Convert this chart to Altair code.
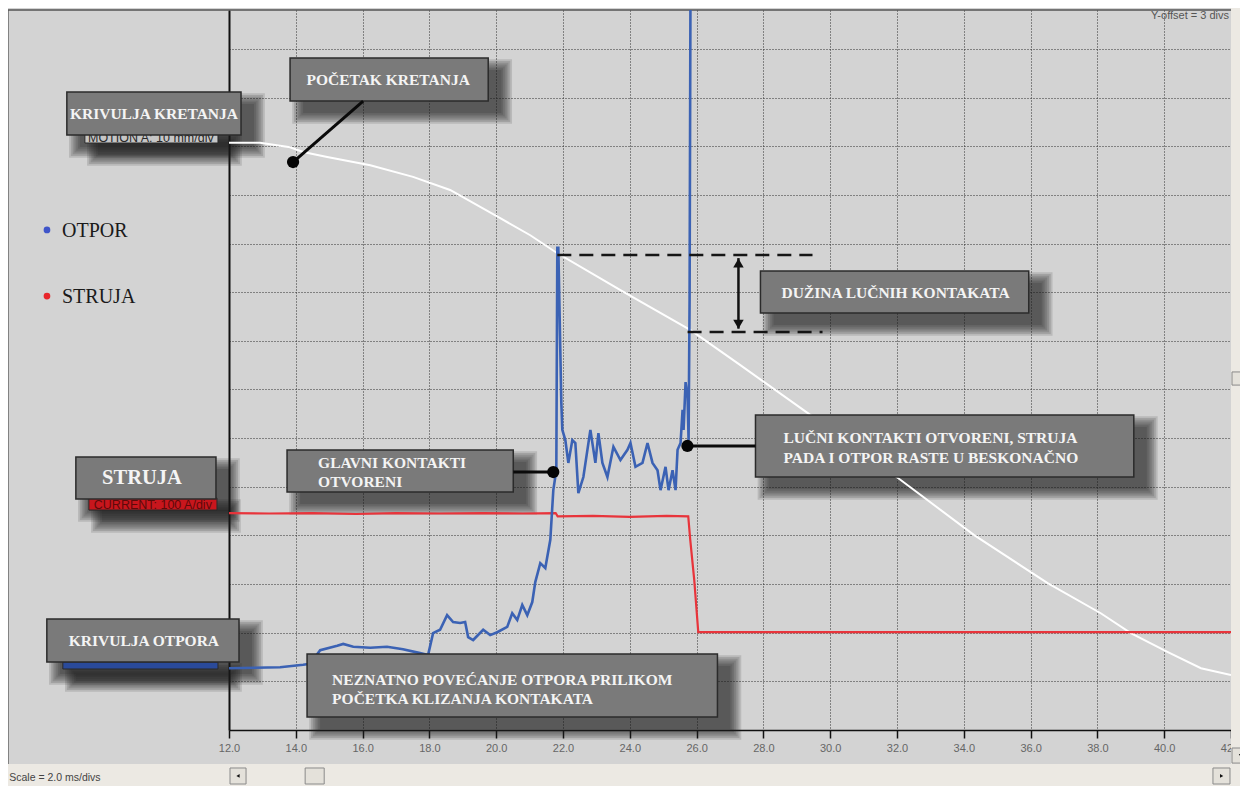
import altair as alt
import pandas as pd

# ---------------- measured data (time in ms, amplitude in divisions) ----------------
tick_ms = [12, 14, 16, 18, 20, 22, 24, 26, 28, 30, 32, 34, 36, 38, 40, 42]
grid_divs = list(range(0, 15))

# white curve: motion (KRIVULJA KRETANJA)
motion_t = [12.0, 12.93, 13.83, 14.22, 14.94, 16.23, 17.51, 18.62, 20.12, 21.02, 21.83,
            23.72, 25.82, 27.31, 29.32, 32.11, 34.30, 36.51, 38.10, 39.0, 40.11, 41.10, 42.0]
motion_v = [12.07, 12.07, 11.98, 11.88, 11.78, 11.61, 11.37, 11.10, 10.52, 10.17, 9.80,
            9.04, 8.22, 7.50, 6.52, 5.14, 4.01, 3.02, 2.40, 1.99, 1.60, 1.27, 1.13]

# red curve: current (STRUJA)
current_t = [12.0, 13.2, 14.5, 15.8, 17.0, 18.3, 19.6, 20.8, 21.78, 21.84, 22.9, 24.0,
             25.1, 25.75, 25.81, 25.93, 26.05, 42.0]
current_v = [4.46, 4.45, 4.46, 4.44, 4.46, 4.45, 4.46, 4.45, 4.46, 4.39, 4.40, 4.38,
             4.40, 4.39, 3.91, 3.08, 2.01, 2.01]

# blue curve: resistance (OTPOR)
res_t = [12.00, 13.53, 14.22, 14.43, 14.73, 15.24, 15.42, 15.72, 16.23, 16.73, 17.21, 17.72,
         17.96, 18.11, 18.32, 18.53, 18.71, 18.92, 19.07, 19.16, 19.31, 19.61, 19.82, 20.03,
         20.33, 20.48, 20.63, 20.78, 20.93, 21.08, 21.17, 21.32, 21.47, 21.62, 21.71, 21.80,
         21.83, 21.86, 21.95, 21.98, 22.07, 22.16, 22.28, 22.37, 22.46, 22.61, 22.82, 22.97,
         23.06, 23.18, 23.33, 23.51, 23.72, 23.93, 24.02, 24.17, 24.38, 24.53, 24.68, 24.83,
         24.92, 25.07, 25.16, 25.28, 25.37, 25.43, 25.52, 25.58, 25.61, 25.67, 25.73, 25.76,
         25.79, 25.82]
res_v = [1.27, 1.29, 1.34, 1.36, 1.64, 1.73, 1.77, 1.71, 1.69, 1.71, 1.66, 1.58,
         1.54, 1.99, 2.06, 2.36, 2.22, 2.20, 2.22, 1.91, 1.85, 2.06, 1.95, 2.01,
         2.12, 2.40, 2.26, 2.57, 2.36, 2.63, 3.04, 3.43, 3.33, 3.91, 4.93, 5.34,
         9.91, 9.91, 6.72, 6.17, 5.96, 5.49, 5.96, 5.90, 4.87, 5.20, 6.17, 5.49,
         6.10, 5.49, 5.20, 5.82, 5.55, 5.76, 5.90, 5.41, 5.49, 5.90, 5.49, 5.34,
         4.93, 5.41, 4.93, 5.34, 4.93, 5.76, 5.90, 6.58, 6.17, 7.15, 6.84, 5.96,
         8.84, 16.0]

# legend
legend_names = ["OTPOR", "STRUJA"]
legend_colors = ["#3f55c9", "#e8262b"]
legend_t = [6.55, 6.55]
legend_v = [10.28, 8.92]
legend_text_t = [7.0, 7.0]

# annotation boxes (x1, x2 in ms; top, bottom in divs)
box_x1 = [7.145, 13.828, 27.912, 27.763, 7.415, 13.738, 6.546, 14.337]
box_x2 = [12.36, 19.761, 35.944, 39.090, 11.610, 20.511, 12.300, 26.624]
box_top = [13.114, 13.813, 9.435, 6.475, 5.611, 5.755, 2.282, 1.562]
box_bot = [12.230, 12.929, 8.571, 5.200, 4.748, 4.892, 1.398, 0.267]

# centred box texts
ctext = ["KRIVULJA KRETANJA", "POČETAK KRETANJA", "DUŽINA LUČNIH KONTAKATA", "KRIVULJA OTPORA"]
ctext_t = [9.753, 16.765, 31.958, 9.453]
ctext_v = [12.682, 13.381, 9.003, 1.850]
# left aligned box texts
ltext = ["LUČNI KONTAKTI OTVORENI, STRUJA", "PADA I OTPOR RASTE U BESKONAČNO",
         "GLAVNI KONTAKTI", "OTVORENI",
         "NEZNATNO POVEĆANJE OTPORA PRILIKOM", "POČETKA KLIZANJA KONTAKATA"]
ltext_t = [28.602, 28.602, 14.667, 14.667, 15.087, 15.087]
ltext_v = [6.023, 5.611, 5.509, 5.118, 1.048, 0.658]
big_text = ["STRUJA"]
big_text_t = [9.393]
big_text_v = [5.200]

# channel tags partially hidden under the boxes
tag_text = ["MOTION A: 10 mm/div", "CURRENT: 100 A/div", ""]
tag_x1 = [7.685, 7.805, 7.025]
tag_x2 = [11.67, 11.640, 11.670]
tag_top = [12.333, 4.769, 1.398]
tag_bot = [12.066, 4.522, 1.254]
tag_fill = ["#c6c6c6", "#c8161d", "#2a4a9a"]
tag_color = ["#2a2a2a", "#5c0a0a", "#2a4a9a"]
tag_tt = [9.66, 9.72, 9.3]
tag_tv = [12.17, 4.625, 1.3]

# connector lines and dots
con_t1 = [13.918, 20.511, 25.725]
con_v1 = [11.675, 5.303, 5.838]
con_t2 = [16.016, 21.709, 27.763]
con_v2 = [12.929, 5.303, 5.838]
dot_t = [13.918, 21.709, 25.725]
dot_v = [11.675, 5.303, 5.838]

# dashed marker lines and double arrow
dash_t1 = [21.83, 25.73]
dash_t2 = [29.47, 29.77]
dash_v = [9.764, 8.181]
arrow_t = [27.253]
arrow_v1 = [9.70]
arrow_v2 = [8.25]
head_t = [27.253, 27.253]
head_v = [9.60, 8.34]
head_shape = ["triangle-up", "triangle-down"]

# window chrome (scroll bars)
chrome_x1 = [5.30, 42.0]
chrome_x2 = [42.7, 42.7]
chrome_top = [-0.699, 14.9]
chrome_bot = [-1.35, -0.699]
btn_x1 = [12.03, 14.28, 41.46, 42.03, 42.03]
btn_x2 = [12.51, 14.85, 41.97, 42.55, 42.55]
btn_top = [-0.781, -0.781, -0.781, 7.36, -0.37]
btn_bot = [-1.110, -1.110, -1.110, 7.09, -0.68]
btn_arrow_t = [12.27, 41.72, 42.29]
btn_arrow_v = [-0.945, -0.945, -0.525]
btn_arrow_shape = ["triangle-left", "triangle-right", "triangle-down"]

# ---------------- helpers ----------------
PX_X = 33.37   # px per ms (layout constant for shadow offsets)
PX_Y = 48.65   # px per div

xs = alt.Scale(domain=[12, 42], nice=False, zero=False)
ys = alt.Scale(domain=[0, 14.8], nice=False, zero=False)
x_axis = alt.Axis(values=tick_ms, format=".1f", title=None, grid=True, gridDash=[1, 2],
                  gridColor="#2e2e2e", gridWidth=1, domainColor="#111111", domainWidth=1.5,
                  tickColor="#111111", tickWidth=1.5, tickSize=8, labelColor="#666666",
                  labelFont="Liberation Sans", labelFontSize=11, labelPadding=4,
                  labelFlush=False)
y_axis = alt.Axis(values=grid_divs, title=None, grid=True, gridDash=[1, 2],
                  gridColor="#2e2e2e", gridWidth=1, labels=False, ticks=False,
                  domainColor="#111111", domainWidth=2)


def X(f):
    return alt.X(f, type="quantitative", scale=xs, axis=x_axis)


def Y(f):
    return alt.Y(f, type="quantitative", scale=ys, axis=y_axis)


layers = []

# chrome strips
chrome = pd.DataFrame({"x1": chrome_x1, "x2": chrome_x2, "t": chrome_top, "b": chrome_bot})
layers.append(alt.Chart(chrome).mark_rect(color="#ece9e3").encode(
    x=X("x1"), x2="x2", y=Y("t"), y2="b"))
btns = pd.DataFrame({"x1": btn_x1, "x2": btn_x2, "t": btn_top, "b": btn_bot})
layers.append(alt.Chart(btns).mark_rect(fill="#e4e1da", stroke="#8a8a8a", strokeWidth=1).encode(
    x=X("x1"), x2="x2", y=Y("t"), y2="b"))
barr = pd.DataFrame({"t": btn_arrow_t, "v": btn_arrow_v, "s": btn_arrow_shape})
layers.append(alt.Chart(barr).mark_point(filled=True, color="#111111", size=14, opacity=1).encode(
    x=X("t"), y=Y("v"), shape=alt.Shape("s:N", scale=None)))

# frame lines
frame = pd.DataFrame({"x1": [5.38, 5.38], "x2": [42.0, 5.38], "y1": [14.8, 14.8], "y2": [14.8, -0.699]})
layers.append(alt.Chart(frame).mark_rule(color="#555555", strokeWidth=1.5).encode(
    x=X("x1"), x2="x2", y=Y("y1"), y2="y2"))

# text: scale, y-offset
info = pd.DataFrame({"t": [5.42], "v": [-0.99], "s": ["Scale = 2.0 ms/divs"]})
layers.append(alt.Chart(info).mark_text(align="left", baseline="middle", font="Liberation Sans",
                                        fontSize=10.5, color="#444444").encode(
    x=X("t"), y=Y("v"), text="s:N"))
yoff = pd.DataFrame({"t": [41.94], "v": [14.68], "s": ["Y-offset = 3 divs"]})
layers.append(alt.Chart(yoff).mark_text(align="right", baseline="middle", font="Liberation Sans",
                                        fontSize=11, color="#555555").encode(
    x=X("t"), y=Y("v"), text="s:N"))

# soft shadows (stacked translucent rectangles)
shadow_rows = []
all_x1 = box_x1 + tag_x1
all_x2 = box_x2 + tag_x2
all_top = box_top + tag_top
all_bot = box_bot + tag_bot
for i in range(len(all_x1)):
    for k in range(7):
        e = 1.8 * k
        dx, dy = 13.0, 12.0
        shadow_rows.append({
            "x1": all_x1[i] + (dx - e) / PX_X,
            "x2": all_x2[i] + (dx + e) / PX_X,
            "t": all_top[i] - (dy - e) / PX_Y,
            "b": all_bot[i] - (dy + e) / PX_Y,
        })
shadows = pd.DataFrame(shadow_rows)
layers.append(alt.Chart(shadows).mark_rect(color="#1a1a1a", opacity=0.14).encode(
    x=X("x1"), x2="x2", y=Y("t"), y2="b"))

# curves
mdf = pd.DataFrame({"t": motion_t, "v": motion_v, "i": range(len(motion_t))})
layers.append(alt.Chart(mdf).mark_line(color="#ffffff", strokeWidth=2, clip=True).encode(
    x=X("t"), y=Y("v"), order="i:Q"))
cdf = pd.DataFrame({"t": current_t, "v": current_v, "i": range(len(current_t))})
layers.append(alt.Chart(cdf).mark_line(color="#e8343b", strokeWidth=2.2, clip=True).encode(
    x=X("t"), y=Y("v"), order="i:Q"))
rdf = pd.DataFrame({"t": res_t, "v": res_v, "i": range(len(res_t))})
layers.append(alt.Chart(rdf).mark_line(color="#3b62b4", strokeWidth=2.6, clip=True).encode(
    x=X("t"), y=Y("v"), order="i:Q"))

# dashed lines + arrow
ddf = pd.DataFrame({"x1": dash_t1, "x2": dash_t2, "v": dash_v})
layers.append(alt.Chart(ddf).mark_rule(color="#151515", strokeWidth=2.5, strokeDash=[14, 8]).encode(
    x=X("x1"), x2="x2", y=Y("v")))
adf = pd.DataFrame({"t": arrow_t, "v1": arrow_v1, "v2": arrow_v2})
layers.append(alt.Chart(adf).mark_rule(color="#111111", strokeWidth=2.5).encode(
    x=X("t"), y=Y("v1"), y2="v2"))
hdf = pd.DataFrame({"t": head_t, "v": head_v, "s": head_shape})
layers.append(alt.Chart(hdf).mark_point(filled=True, color="#111111", size=110, opacity=1).encode(
    x=X("t"), y=Y("v"), shape=alt.Shape("s:N", scale=None)))

# tags
tdf = pd.DataFrame({"x1": tag_x1, "x2": tag_x2, "t": tag_top, "b": tag_bot, "f": tag_fill,
                    "c": tag_color, "tt": tag_tt, "tv": tag_tv, "s": tag_text})
layers.append(alt.Chart(tdf).mark_rect(stroke="#2a2a2a", strokeWidth=1).encode(
    x=X("x1"), x2="x2", y=Y("t"), y2="b", fill=alt.Fill("f:N", scale=None)))
layers.append(alt.Chart(tdf).mark_text(align="center", baseline="middle", font="Liberation Sans",
                                       fontSize=12.5).encode(
    x=X("tt"), y=Y("tv"), text="s:N", color=alt.Color("c:N", scale=None)))

# boxes
bdf = pd.DataFrame({"x1": box_x1, "x2": box_x2, "t": box_top, "b": box_bot})
layers.append(alt.Chart(bdf).mark_rect(fill="#7a7a7a", stroke="#2b2b2b", strokeWidth=1.5).encode(
    x=X("x1"), x2="x2", y=Y("t"), y2="b"))

ct = pd.DataFrame({"t": ctext_t, "v": ctext_v, "s": ctext})
layers.append(alt.Chart(ct).mark_text(align="center", baseline="middle", font="Liberation Serif",
                                      fontWeight="bold", fontSize=15.5, color="#f4f4f4", dy=1).encode(
    x=X("t"), y=Y("v"), text="s:N"))
lt = pd.DataFrame({"t": ltext_t, "v": ltext_v, "s": ltext})
layers.append(alt.Chart(lt).mark_text(align="left", baseline="middle", font="Liberation Serif",
                                      fontWeight="bold", fontSize=15.5, color="#f4f4f4", dy=1).encode(
    x=X("t"), y=Y("v"), text="s:N"))
bt = pd.DataFrame({"t": big_text_t, "v": big_text_v, "s": big_text})
layers.append(alt.Chart(bt).mark_text(align="center", baseline="middle", font="Liberation Serif",
                                      fontWeight="bold", fontSize=20.5, color="#f4f4f4", dy=1).encode(
    x=X("t"), y=Y("v"), text="s:N"))

# connectors
codf = pd.DataFrame({"x1": con_t1, "y1": con_v1, "x2": con_t2, "y2": con_v2})
layers.append(alt.Chart(codf).mark_rule(color="#0a0a0a", strokeWidth=3).encode(
    x=X("x1"), y=Y("y1"), x2="x2", y2="y2"))
dodf = pd.DataFrame({"t": dot_t, "v": dot_v})
layers.append(alt.Chart(dodf).mark_circle(color="#050505", size=150, opacity=1).encode(
    x=X("t"), y=Y("v")))

# legend
ldf = pd.DataFrame({"t": legend_t, "v": legend_v, "c": legend_colors, "s": legend_names,
                    "tt": legend_text_t})
layers.append(alt.Chart(ldf).mark_circle(size=45, opacity=1).encode(
    x=X("t"), y=Y("v"), color=alt.Color("c:N", scale=None)))
layers.append(alt.Chart(ldf).mark_text(align="left", baseline="middle", font="Liberation Serif",
                                       fontSize=20, color="#1a1a1a", dy=1).encode(
    x=X("tt"), y=Y("v"), text="s:N"))

chart = alt.layer(*layers).properties(
    width=1002, height=720,
    autosize=alt.AutoSizeParams(type="none"),
    padding={"left": 221, "top": 2, "right": 9, "bottom": 56},
).configure(background="#d3d3d3").configure_view(stroke=None)

chart.save("out.html", embed_options={"renderer": "svg", "actions": False})
